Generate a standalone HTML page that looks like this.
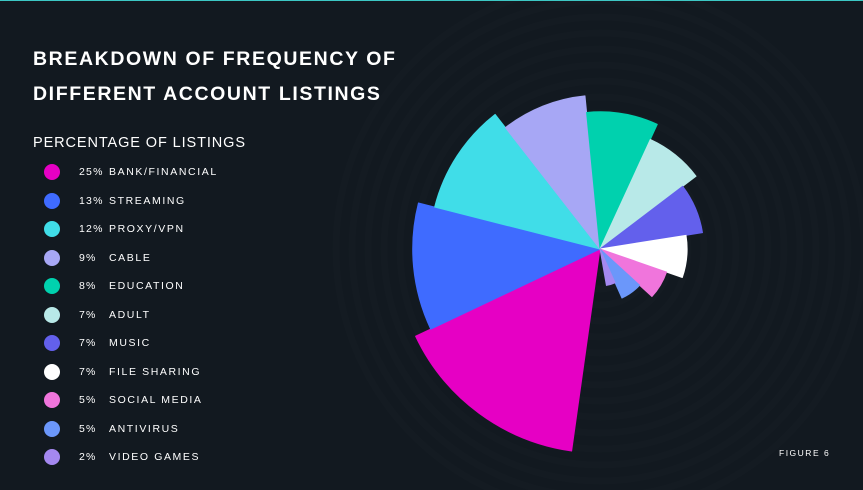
<!DOCTYPE html>
<html><head><meta charset="utf-8">
<style>
html,body{margin:0;padding:0;background:#121920;width:863px;height:490px;overflow:hidden;}
#root{position:relative;width:863px;height:490px;background:#121920;overflow:hidden;font-family:"Liberation Sans",sans-serif;color:#fff;}
.topline{position:absolute;left:0;top:0;width:863px;height:1px;background:#3cc7c4;}
.title{position:absolute;left:33px;top:42px;font-size:19.5px;font-weight:bold;letter-spacing:1.6px;line-height:35px;white-space:nowrap;}
.sub{position:absolute;left:33px;top:135px;font-size:14.5px;letter-spacing:0.9px;white-space:nowrap;}
.leg{position:absolute;left:44px;height:16px;font-size:10.5px;letter-spacing:1.6px;line-height:16px;}
.dot{position:absolute;left:0;top:0;width:16px;height:16px;border-radius:50%;}
.pct{position:absolute;left:35px;top:0;letter-spacing:1.2px;}
.nm{position:absolute;left:65px;top:0;white-space:nowrap;}
.fig{position:absolute;left:779px;top:448px;font-size:8.5px;letter-spacing:1.5px;}
svg{position:absolute;left:0;top:0;}
</style></head><body>
<div id="root">
<div class="topline"></div>
<svg id="chart" width="863" height="490"></svg>
<div class="title">BREAKDOWN OF FREQUENCY OF<br>DIFFERENT ACCOUNT LISTINGS</div>
<div class="sub">PERCENTAGE OF LISTINGS</div>
<div id="legend"></div>
<div class="fig">FIGURE 6</div>
</div>
<script>
const categories=["BANK/FINANCIAL","STREAMING","PROXY/VPN","CABLE","EDUCATION","ADULT","MUSIC","FILE SHARING","SOCIAL MEDIA","ANTIVIRUS","VIDEO GAMES"];
const values=[25,13,12,9,8,7,7,7,5,5,2];
const colors=["#e600c4","#3f6bff","#40dde8","#a7a7f5","#00d1ae","#b8e9e8","#6360ec","#ffffff","#f075dc","#6b97fa","#a488f0"];

const NS="http://www.w3.org/2000/svg";
const svg=document.getElementById('chart');
const cx=600,cy=249;
for(let r=24;r<=272;r+=16){
  const c=document.createElementNS(NS,'circle');
  
  
  c.setAttribute('cx',cx);c.setAttribute('cy',cy);c.setAttribute('r',r);
  c.setAttribute('fill','none');c.setAttribute('stroke','rgba(255,255,255,0.012)');c.setAttribute('stroke-width','7');
  svg.appendChild(c);
}
const startAngle=188,sweep=342;
const pw=values.map(v=>Math.pow(v,0.55));
const pwSum=pw.reduce((a,b)=>a+b,0);
function angleSpan(i){return pw[i]/pwSum*sweep;}
const sorted=[...values].sort((a,b)=>b-a);
function radius(i){const rank=sorted.indexOf(values[i]);const extra=values.slice(0,i).filter(v=>v===values[i]).length;return 204-(rank+extra)*16.7;}
function pt(a,r){const t=a*Math.PI/180;return [cx+r*Math.sin(t),cy-r*Math.cos(t)];}
let a=startAngle;
const g=document.createElementNS(NS,'g');svg.appendChild(g);
values.forEach((v,i)=>{
  const span=angleSpan(i),r=radius(i);
  const p1=pt(a,r),p2=pt(a+span,r);
  const p=document.createElementNS(NS,'path');
  
  
  p.setAttribute('d',`M${cx},${cy}L${p1[0]},${p1[1]}A${r},${r} 0 ${span>180?1:0} 1 ${p2[0]},${p2[1]}Z`);
  p.setAttribute('fill',colors[i]);
  p.setAttribute('stroke',colors[i]);p.setAttribute('stroke-width','1');p.setAttribute('stroke-linejoin','round');
  g.appendChild(p);
  a+=span;
});
const leg=document.getElementById('legend');
values.forEach((v,i)=>{
  const d=document.createElement('div');
  d.className='leg';d.style.top=(164+i*28.5)+'px';
  
  
  const dot=document.createElement('div');dot.className='dot';dot.style.background=colors[i];
  
  
  const pc=document.createElement('span');pc.className='pct';pc.textContent=v+'%';
  
  
  const nm=document.createElement('span');nm.className='nm';nm.textContent=categories[i];
  
  
  d.appendChild(dot);d.appendChild(pc);d.appendChild(nm);leg.appendChild(d);
});
</script>
</body></html>
